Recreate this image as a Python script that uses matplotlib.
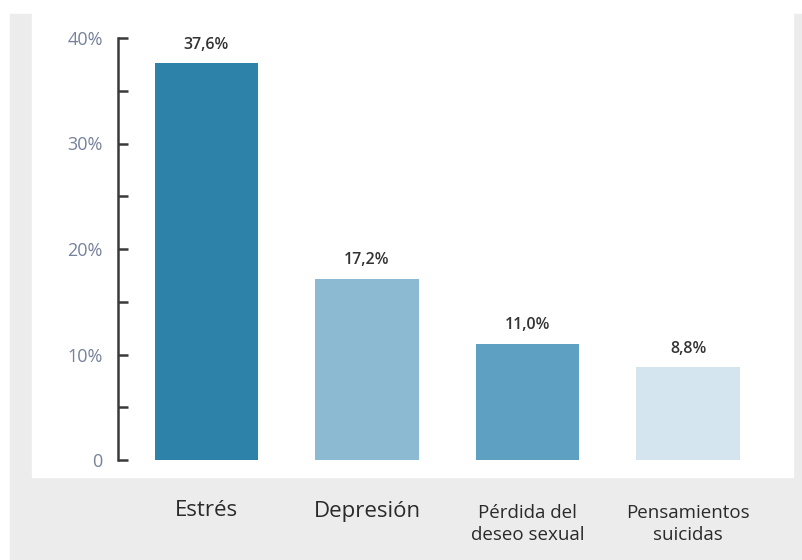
import matplotlib.pyplot as plt
from matplotlib.patches import Rectangle
from matplotlib.ticker import MultipleLocator, FuncFormatter

# data
categories = ["Estrés", "Depresión", "Pérdida del\ndeseo sexual", "Pensamientos\nsuicidas"]
values = [37.6, 17.2, 11.0, 8.8]
value_labels = ["37,6%", "17,2%", "11,0%", "8,8%"]
bar_colors = ["#2d82a9", "#8bbad2", "#5da0c2", "#d4e5ef"]

W, H = 802, 560
fig = plt.figure(figsize=(W / 100, H / 100), dpi=100)
fig.patch.set_facecolor("white")

# gray frame and white panel (pixel coords -> figure fraction)
def px(x0, y0, x1, y1):
    return (x0 / W, 1 - y1 / H), (x1 - x0) / W, (y1 - y0) / H

xy, w, h = px(10, 14, 802, 560)
fig.patches.append(Rectangle(xy, w, h, transform=fig.transFigure, color="#ececec", zorder=-2))
xy, w, h = px(32, 0, 793, 477)
fig.patches.append(Rectangle(xy, w, h, transform=fig.transFigure, color="white", zorder=-1))

# axes: spine at x=118px, 0 at y=460px, 40% at y=38px
ax_left, ax_right, ax_top, ax_bot = 118, 780, 38, 460
ax = fig.add_axes([ax_left / W, 1 - ax_bot / H, (ax_right - ax_left) / W, (ax_bot - ax_top) / H])
ax.set_facecolor("none")
ax.set_zorder(1)

x = list(range(len(values)))
ax.bar(x, values, width=0.642, color=bar_colors, zorder=2)
ax.set_xlim(-0.551, 3.573)
ax.set_ylim(0, 40)

for xi, v, lab in zip(x, values, value_labels):
    ax.text(xi, v + 1.0, lab, ha="center", va="bottom", fontsize=11.5,
            fontweight="semibold", color="#333333",
            family=["Liberation Sans Narrow", "Open Sans", "DejaVu Sans"])

for s in ["top", "right", "bottom"]:
    ax.spines[s].set_visible(False)
ax.spines["left"].set_color("#3a3a3a")
ax.spines["left"].set_linewidth(1.8)

ax.yaxis.set_major_locator(MultipleLocator(10))
ax.yaxis.set_minor_locator(MultipleLocator(5))
ax.yaxis.set_major_formatter(FuncFormatter(lambda v, p: "0" if v == 0 else f"{int(v)}%"))
ax.tick_params(axis="y", which="both", direction="in", length=7.5, width=1.8,
               color="#3a3a3a", pad=11, labelsize=13, labelcolor="#76829a")
for lbl in ax.get_yticklabels():
    lbl.set_family("Open Sans")
ax.set_xticks([])

# category labels below the panel
for xi, cat in zip(x, categories):
    two_lines = "\n" in cat
    ax.annotate(cat, xy=(xi, 0), xycoords="data",
                xytext=(0, -64 if two_lines else -51),
                textcoords="offset pixels", annotation_clip=False,
                ha="center", va="center", fontsize=13.5 if two_lines else 16,
                fontweight="normal" if two_lines else "medium",
                color="#2a2a2a", family=["Open Sans", "DejaVu Sans"],
                linespacing=1.3)

fig.savefig("out.png", dpi=100)
